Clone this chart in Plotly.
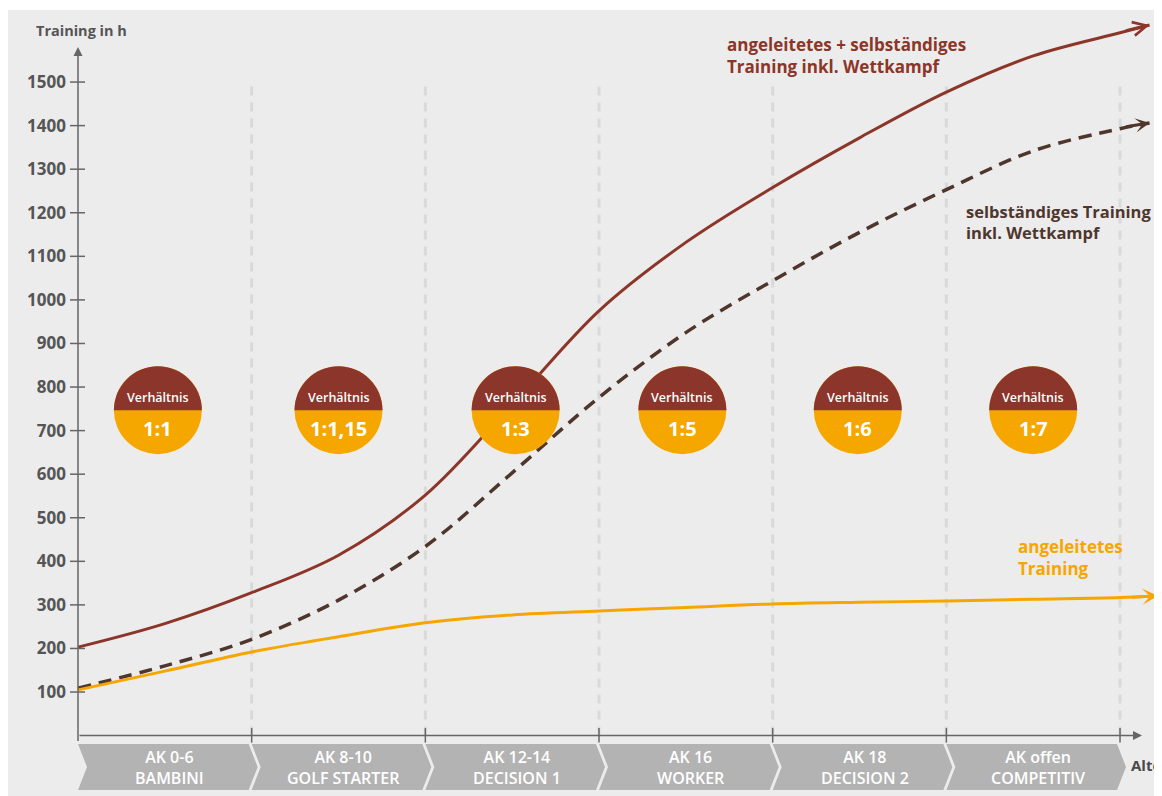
import plotly.graph_objects as go

# ---------------- data ----------------
age_pos = [0, 0.5, 1, 1.5, 2, 2.5, 3, 3.5, 4, 4.5, 5, 5.5, 6]
total_training = [203, 257, 328, 414, 552, 760, 975, 1132, 1258, 1372, 1477, 1560, 1613]
self_training = [109, 160, 221, 311, 434, 603, 776, 925, 1044, 1155, 1253, 1342, 1393]
guided_training = [105, 148, 192, 227, 259, 277, 286, 294, 302, 306, 309, 313, 317]
# arrow tips of the curves (x, y)
total_end = (6.17, 1631)
self_end = (6.17, 1406)
guided_end = (6.22, 321)

groups_line1 = ["AK 0-6", "AK 8-10", "AK 12-14", "AK 16", "AK 18", "AK offen"]
groups_line2 = ["BAMBINI", "GOLF STARTER", "DECISION 1", "WORKER", "DECISION 2", "COMPETITIV"]
group_bounds = [0, 1, 2, 3, 4, 5, 6]

ratio_pos = [0.46, 1.5, 2.52, 3.48, 4.49, 5.5]
ratio_labels = ["1:1", "1:1,15", "1:3", "1:5", "1:6", "1:7"]
ratio_level = 747

y_ticks = [100, 200, 300, 400, 500, 600, 700, 800, 900, 1000, 1100, 1200, 1300, 1400, 1500]

# ---------------- styling ----------------
RED = "#8c3529"
DARK = "#4f362c"
ORANGE = "#f7a600"
AXIS = "#666666"
PANEL = "#ececec"
CHEV = "#b3b3b3"
FONT = "Open Sans"

OFF = 8                      # page body margin
W, H = 1162 - OFF, 796 - OFF
PX = 173.67                  # pixels per x unit
PY = 0.4357                  # pixels per y unit
AX_X, AX_Y = 78, 735.6       # screen position of the origin


def sx(px):                  # screen x -> data x
    return (px - AX_X) / PX


def sy(py):                  # screen y -> data y
    return (AX_Y - py) / PY


def pxp(px):                 # screen x -> paper x
    return (px - OFF) / W


def pyp(py):                 # screen y -> paper y
    return 1 - (py - OFF) / H


def dx(px):
    return px / PX


def dy(px):
    return px / PY


fig = go.Figure()
shapes = []
annotations = []

# white strip above the panel
shapes.append(dict(type="rect", xref="paper", yref="paper", x0=0, x1=1, y0=pyp(10), y1=1,
                   fillcolor="white", line=dict(width=0), layer="below"))

# vertical dashed separators
for b in group_bounds[1:]:
    shapes.append(dict(type="line", xref="x", yref="y", x0=b, x1=b, y0=0, y1=1505,
                       line=dict(color="#d9d9d9", width=3, dash="9px,7px"), layer="below"))

# chevrons
top, mid, bot = sy(744), sy(767), sy(790)
for i in range(len(groups_line1)):
    a, b = group_bounds[i], group_bounds[i + 1]
    path = (f"M {a},{top} L {b - dx(3)},{top} L {b + dx(6)},{mid} L {b - dx(3)},{bot} "
            f"L {a},{bot} L {a + dx(9)},{mid} Z")
    shapes.append(dict(type="path", xref="x", yref="y", path=path, fillcolor=CHEV,
                       line=dict(width=0), layer="below"))
    cx = (a + b) / 2 + dx(5)
    annotations.append(dict(x=cx, y=sy(767), xref="x", yref="y",
                            text=groups_line1[i] + "<br>" + groups_line2[i],
                            showarrow=False, align="center",
                            font=dict(family=FONT, size=16, color="white", weight=600)))

# y-axis tick marks
for v in y_ticks:
    shapes.append(dict(type="line", xref="x", yref="y", x0=dx(-8), x1=dx(7), y0=v, y1=v,
                       line=dict(color=AXIS, width=1.5)))
# x-axis tick marks
for b in group_bounds[1:]:
    shapes.append(dict(type="line", xref="x", yref="y", x0=b, x1=b, y0=dy(7.5), y1=dy(-7),
                       line=dict(color=AXIS, width=1.5)))

# curves
fig.add_trace(go.Scatter(x=age_pos + [self_end[0]], y=self_training + [self_end[1]], mode="lines",
                         line=dict(color=DARK, width=3.5, dash="13px,8px", shape="spline"),
                         hoverinfo="skip"))
fig.add_trace(go.Scatter(x=age_pos + [guided_end[0]], y=guided_training + [guided_end[1]], mode="lines",
                         line=dict(color=ORANGE, width=3, shape="spline"), hoverinfo="skip"))
fig.add_trace(go.Scatter(x=age_pos + [total_end[0]], y=total_training + [total_end[1]], mode="lines",
                         line=dict(color=RED, width=3, shape="spline"), hoverinfo="skip"))

# ratio circles (drawn above the curves)
r = 44
k = 0.5523 * r
half = f"M {-r},0 C {-r},{k} {-k},{r} 0,{r} C {k},{r} {r},{k} {r},0 Z"
for i, p in enumerate(ratio_pos):
    shapes.append(dict(type="circle", xref="x", yref="y", xsizemode="pixel", ysizemode="pixel",
                       xanchor=p, yanchor=ratio_level, x0=-r, x1=r, y0=-r, y1=r,
                       fillcolor="#f5a700", line=dict(width=0), layer="above"))
    shapes.append(dict(type="path", xref="x", yref="y", xsizemode="pixel", ysizemode="pixel",
                       xanchor=p, yanchor=ratio_level, path=half,
                       fillcolor="#8b352b", line=dict(width=0), layer="above"))
    annotations.append(dict(x=p, y=ratio_level + dy(13), xref="x", yref="y", text="Verhältnis",
                            showarrow=False, font=dict(family=FONT, size=12.5, color="white", weight=600)))
    annotations.append(dict(x=p, y=ratio_level - dy(18), xref="x", yref="y", text=ratio_labels[i],
                            showarrow=False, font=dict(family=FONT, size=20, color="white", weight=700)))

# axes arrows
annotations.append(dict(x=0, y=sy(47), ax=0, ay=dy(-7), xref="x", yref="y", axref="x", ayref="y",
                        text="", showarrow=True, arrowhead=2, arrowsize=1.2, arrowwidth=1.5,
                        arrowcolor=AXIS, standoff=0))
annotations.append(dict(x=sx(1142), y=0, ax=0, ay=0, xref="x", yref="y", axref="x", ayref="y",
                        text="", showarrow=True, arrowhead=2, arrowsize=1.2, arrowwidth=1.5,
                        arrowcolor=AXIS, standoff=0))

# curve arrow heads
annotations.append(dict(x=total_end[0], y=total_end[1], ax=total_end[0] - dx(25), ay=total_end[1] - dy(6),
                        xref="x", yref="y", axref="x", ayref="y", text="", showarrow=True,
                        arrowhead=5, arrowsize=0.9, arrowwidth=3, arrowcolor=RED, standoff=0))
annotations.append(dict(x=self_end[0], y=self_end[1], ax=self_end[0] - dx(25), ay=self_end[1] - dy(4),
                        xref="x", yref="y", axref="x", ayref="y", text="", showarrow=True,
                        arrowhead=3, arrowsize=0.8, arrowwidth=3, arrowcolor=DARK, standoff=0))
annotations.append(dict(x=guided_end[0], y=guided_end[1], ax=guided_end[0] - dx(28), ay=guided_end[1] - dy(1.5),
                        xref="x", yref="y", axref="x", ayref="y", text="", showarrow=True,
                        arrowhead=3, arrowsize=0.9, arrowwidth=3, arrowcolor=ORANGE, standoff=0))

# text labels
annotations.append(dict(x=pxp(34), y=pyp(30), xref="paper", yref="paper", text="Training in h",
                        xanchor="left", yanchor="middle", showarrow=False,
                        font=dict(family=FONT, size=14.5, color="#555555", weight=700)))
annotations.append(dict(x=pxp(1129), y=pyp(765), xref="paper", yref="paper", text="Alter",
                        xanchor="left", yanchor="middle", showarrow=False,
                        font=dict(family=FONT, size=15, color="#4a4a4a", weight=700)))
annotations.append(dict(x=pxp(725), y=pyp(55), xref="paper", yref="paper",
                        text="angeleitetes + selbständiges<br>Training inkl. Wettkampf",
                        xanchor="left", yanchor="middle", align="left", showarrow=False,
                        font=dict(family=FONT, size=17, color=RED, weight=700)))
annotations.append(dict(x=pxp(964), y=pyp(222), xref="paper", yref="paper",
                        text="selbständiges Training<br>inkl. Wettkampf",
                        xanchor="left", yanchor="middle", align="left", showarrow=False,
                        font=dict(family=FONT, size=16.5, color=DARK, weight=700)))
annotations.append(dict(x=pxp(1016), y=pyp(557), xref="paper", yref="paper",
                        text="angeleitetes<br>Training",
                        xanchor="left", yanchor="middle", align="left", showarrow=False,
                        font=dict(family=FONT, size=17, color=ORANGE, weight=700)))

fig.update_layout(
    width=W, height=H,
    margin=dict(l=0, r=0, t=0, b=0),
    paper_bgcolor=PANEL,
    plot_bgcolor="rgba(0,0,0,0)",
    showlegend=False,
    hovermode=False,
    shapes=shapes,
    annotations=annotations,
    xaxis=dict(range=[sx(OFF), sx(1162)], visible=False, fixedrange=True),
    yaxis=dict(range=[sy(796), sy(OFF)], anchor="free", position=pxp(AX_X),
               tickvals=y_ticks, ticktext=[str(v) for v in y_ticks],
               showgrid=False, zeroline=False, showline=False, ticks="",
               ticklabelstandoff=12,
               tickfont=dict(family=FONT, size=17, color="#555555", weight=700),
               fixedrange=True),
)

fig.write_html("out.html")
